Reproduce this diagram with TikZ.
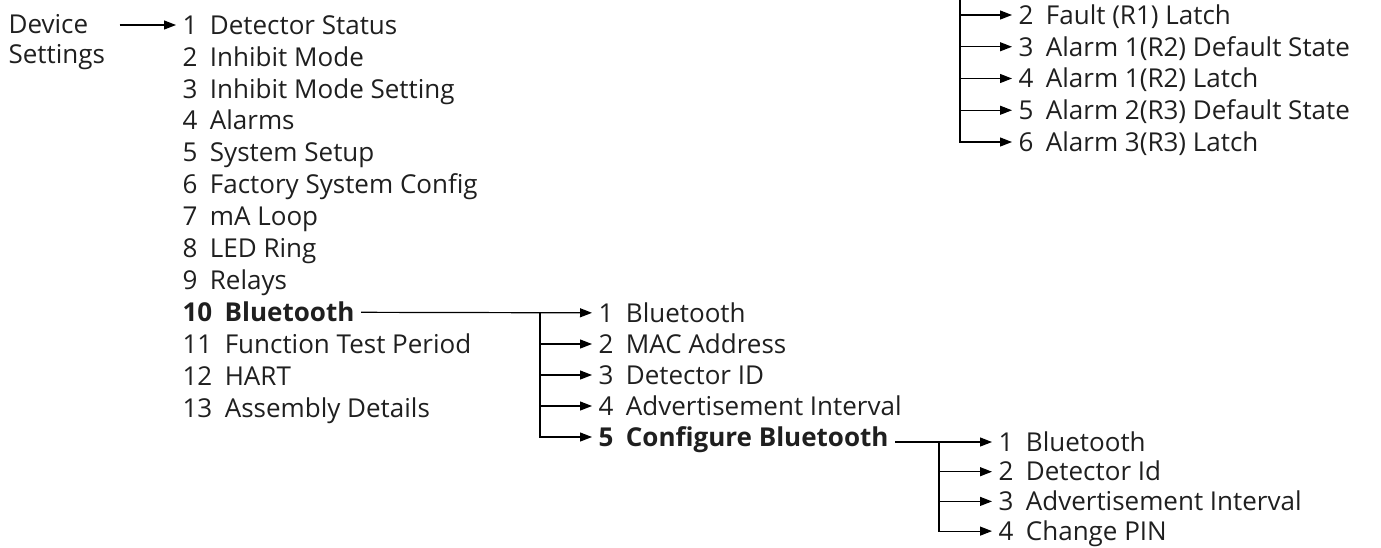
\documentclass[tikz,border=0pt]{standalone}
\usepackage{fontspec}
\setmainfont{Open Sans}
\usetikzlibrary{arrows.meta, positioning}

\begin{document}
\begin{tikzpicture}[
    x=1pt, y=-1pt,
    >={Triangle[length=12pt, width=9pt]},
    line width=1.2pt,
    every node/.style={anchor=west, inner xsep=6pt, inner ysep=0pt,
        text height=18.5pt, text depth=0pt, text=black!88,
        font=\fontsize{26}{30}\selectfont}
]
    \useasboundingbox (0,0) rectangle (1381,547);

    % left column
    \node[anchor=north west, inner xsep=8pt, text height=, text depth=,
          align=left] (devset) at (0,14) {Device\\Settings};

    % main menu
    \foreach \t [count=\i] in {Detector Status, Inhibit Mode,
        Inhibit Mode Setting, Alarms, System Setup, Factory System Config,
        mA Loop, LED Ring, Relays, {\textbf{Bluetooth}},
        Function Test Period, HART, Assembly Details}
        \node (m\i) at (176,{25+31.9*(\i-1)})
            {\ifnum\i=10 \textbf{10}\else\i\fi\hspace{0.48em}\t};

    % bluetooth menu
    \foreach \t [count=\i] in {Bluetooth, MAC Address, Detector ID,
        Advertisement Interval, {\textbf{Configure Bluetooth}}}
        \node (b\i) at (592,{313+31*(\i-1)})
            {\ifnum\i=5 \textbf{5}\else\i\fi\hspace{0.48em}\t};

    % configure bluetooth menu
    \foreach \t [count=\i] in {Bluetooth, Detector Id,
        Advertisement Interval, Change PIN}
        \node (c\i) at (992,{442+29.7*(\i-1)}) {\i\hspace{0.48em}\t};

    % relays menu (continued from above)
    \foreach \t [count=\i from 2] in {Fault (R1) Latch,
        Alarm 1(R2) Default State, Alarm 1(R2) Latch,
        Alarm 2(R3) Default State, Alarm 3(R3) Latch}
        \node (r\i) at (1012,{15+31.75*(\i-2)}) {\i\hspace{0.48em}\t};

    % trunks
    \path (b1.west) ++(-52,0) coordinate (bj);
    \path (c1.west) ++(-53,0) coordinate (cj);
    \path (r2.west) ++(-52,-30) coordinate (rtop);

    \draw[->, shorten <=6pt] (devset.east |- m1) -- (m1);

    \draw[->] (m10) -- (b1);
    \foreach \i in {2,...,5}
        \draw[->] (bj) |- (b\i);

    \draw[->] (b5.east |- c1) -- (c1);
    \foreach \i in {2,...,4}
        \draw[->] (cj) |- (c\i);

    \draw[->] (rtop) |- (r6);
    \foreach \i in {2,...,5}
        \draw[->] (rtop |- r\i) -- (r\i);
\end{tikzpicture}
\end{document}
